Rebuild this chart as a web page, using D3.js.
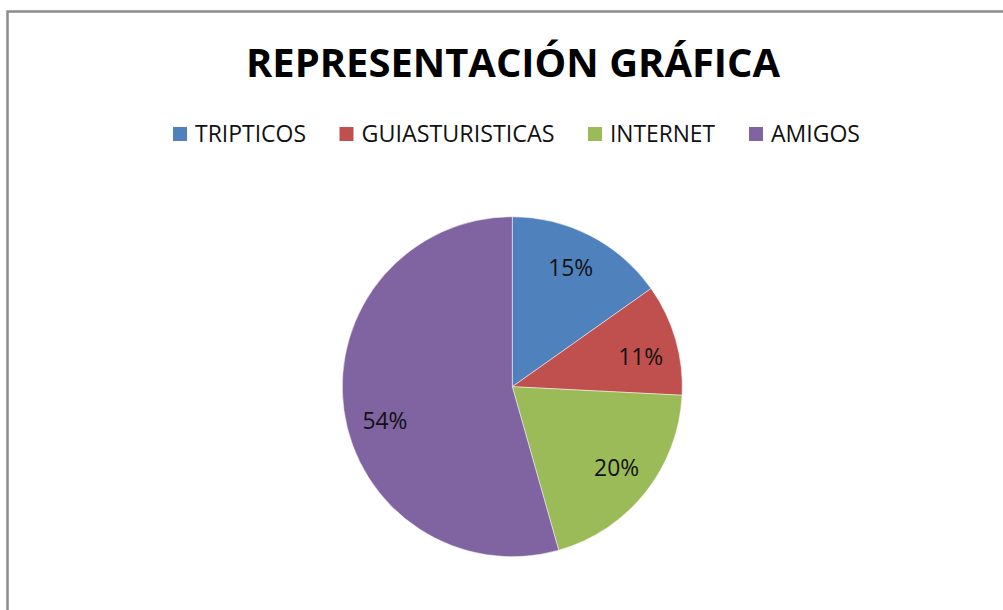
<!DOCTYPE html>
<html>
<head>
<meta charset="utf-8">
<script src="https://cdn.jsdelivr.net/npm/d3@7"></script>
<style>
  html, body { margin: 0; padding: 0; background: #fff; }
  svg { display: block; }
</style>
</head>
<body>
<svg id="chart" width="1003" height="610"></svg>
<script>
const title = "REPRESENTACIÓN GRÁFICA";
const categories = ["TRIPTICOS", "GUIASTURISTICAS", "INTERNET", "AMIGOS"];
const values = [15.2, 10.6, 19.8, 54.4];
const labels = ["15%", "11%", "20%", "54%"];
const colors = ["#4F81BD", "#C0504D", "#9BBB59", "#8064A2"];

const svg = d3.select("#chart");
const W = 1003, H = 610;

// chart area border
svg.append("rect")
  .attr("x", 7.5).attr("y", 11.5)
  .attr("width", W + 20).attr("height", H + 20)
  .attr("fill", "#fff")
  .attr("stroke", "#8c8c8c").attr("stroke-width", 2.5);

// title
svg.append("text")
  .attr("x", 246).attr("y", 77)
  .attr("font-family", "'Open Sans', 'DejaVu Sans', sans-serif")
  .attr("font-weight", "bold")
  .attr("font-size", 39)
  .attr("fill", "#000")
  .attr("textLength", 534)
  .attr("lengthAdjust", "spacingAndGlyphs")
  .text(title);

// legend (layout)
const legendX = [173, 339.5, 588, 749];
const legendTextW = [111, 193, 105, 89];
const lg = svg.append("g");
categories.forEach((c, i) => {
  lg.append("rect")
    .attr("x", legendX[i]).attr("y", 127)
    .attr("width", 14).attr("height", 14)
    .attr("fill", colors[i]);
  lg.append("text")
    .attr("x", legendX[i] + 22).attr("y", 141.5)
    .attr("font-family", "'Open Sans', 'DejaVu Sans', sans-serif")
    .attr("font-size", 23.5)
    .attr("fill", "#111")
    .attr("textLength", legendTextW[i])
    .attr("lengthAdjust", "spacingAndGlyphs")
    .text(c);
});

// pie
const cx = 512.3, cy = 386.7, r = 170;
const pie = d3.pie().sort(null).value(d => d)(values);
const arc = d3.arc().innerRadius(0).outerRadius(r);
const labelArc = d3.arc().innerRadius(132).outerRadius(132);
// best-fit label nudges (layout only)
const nudge = [[-2.3, -2], [1.6, 6], [1, -2], [3.4, 15]];
const g = svg.append("g").attr("transform", `translate(${cx},${cy})`);
g.selectAll("path").data(pie).join("path")
  .attr("d", arc)
  .attr("fill", (d, i) => colors[i])
  .attr("stroke", "#ffffff")
  .attr("stroke-opacity", 0.6)
  .attr("stroke-width", 0.8);

g.selectAll("text").data(pie).join("text")
  .attr("transform", (d, i) => {
    const [x, y] = labelArc.centroid(d);
    return `translate(${x + nudge[i][0]},${y + nudge[i][1]})`;
  })
  .attr("text-anchor", "middle")
  .attr("dy", "0.36em")
  .attr("font-family", "'Open Sans', 'DejaVu Sans', sans-serif")
  .attr("font-size", 24)
  .attr("fill", "#111")
  .attr("textLength", 45)
  .attr("lengthAdjust", "spacingAndGlyphs")
  .text((d, i) => labels[i]);
</script>
</body>
</html>
